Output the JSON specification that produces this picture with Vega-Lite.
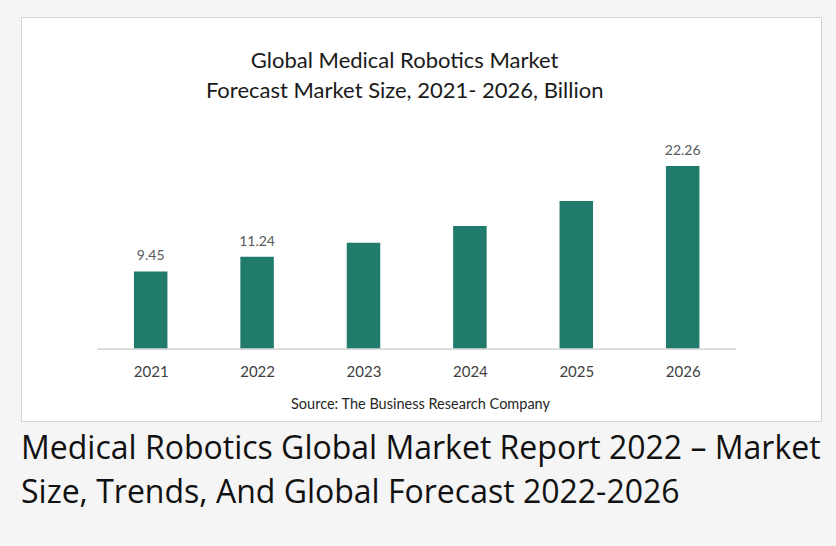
{
  "$schema": "https://vega.github.io/schema/vega-lite/v6.json",
  "width": 800,
  "height": 404,
  "autosize": "none",
  "padding": {"left": 21, "top": 17, "right": 15, "bottom": 125},
  "background": "#f5f5f5",
  "config": {"view": {"fill": "#ffffff", "stroke": "#d4d4d4", "strokeWidth": 1}},
  "title": {
    "text": ["Medical Robotics Global Market Report 2022 – Market", "Size, Trends, And Global Forecast 2022-2026"],
    "orient": "bottom",
    "anchor": "start",
    "offset": 13,
    "font": "Open Sans",
    "fontSize": 32,
    "fontWeight": "normal",
    "color": "#111111",
    "lineHeight": 44,
    "baseline": "top"
  },
  "data": {
    "values": [
      {"year": 2021, "value": 9.45, "label": "9.45"},
      {"year": 2022, "value": 11.24, "label": "11.24"},
      {"year": 2023, "value": 12.95, "label": ""},
      {"year": 2024, "value": 14.98, "label": ""},
      {"year": 2025, "value": 18.0, "label": ""},
      {"year": 2026, "value": 22.26, "label": "22.26"}
    ]
  },
  "layer": [
    {
      "mark": {"type": "bar", "width": 33.5, "color": "#217b6c"},
      "encoding": {
        "x": {
          "field": "year",
          "type": "quantitative",
          "scale": {"domain": [2019.781, 2027.3], "nice": false, "zero": false, "padding": 0},
          "axis": {
            "values": [2021, 2022, 2023, 2024, 2025, 2026],
            "format": "d",
            "domain": false,
            "ticks": false,
            "grid": false,
            "offset": -71.7,
            "labelPadding": 15,
            "labelFont": "Lato",
            "labelFontSize": 15,
            "labelColor": "#404040",
            "labelFlush": false,
            "title": null
          }
        },
        "y": {
          "field": "value",
          "type": "quantitative",
          "scale": {"domain": [-8.71, 40.36], "nice": false, "zero": false, "padding": 0},
          "axis": null
        },
        "y2": {"datum": 0}
      }
    },
    {
      "mark": {"type": "rule", "color": "#d9d9d9", "strokeWidth": 1},
      "encoding": {
        "x": {"datum": 2020.5, "type": "quantitative"},
        "x2": {"datum": 2026.5},
        "y": {"datum": 0, "type": "quantitative"}
      }
    },
    {
      "mark": {"type": "text", "dy": -11, "baseline": "alphabetic", "font": "Lato", "fontSize": 14, "color": "#595959"},
      "encoding": {
        "x": {"field": "year", "type": "quantitative"},
        "y": {"field": "value", "type": "quantitative"},
        "text": {"field": "label"}
      }
    },
    {
      "data": {"values": [{"title": "Global Medical Robotics Market"}]},
      "mark": {
        "type": "text",
        "text": ["Global Medical Robotics Market", "Forecast Market Size, 2021- 2026, Billion"],
        "lineHeight": 30,
        "baseline": "alphabetic",
        "align": "center",
        "font": "Lato",
        "fontSize": 22,
        "color": "#1a1a1a"
      },
      "encoding": {
        "x": {"datum": 2023.387, "type": "quantitative"},
        "y": {"datum": 34.13, "type": "quantitative"}
      }
    },
    {
      "data": {"values": [{"source": "Source: The Business Research Company"}]},
      "mark": {"type": "text", "baseline": "alphabetic", "align": "center", "font": "Lato", "fontSize": 14.5, "color": "#262626"},
      "encoding": {
        "x": {"datum": 2023.536, "type": "quantitative"},
        "y": {"datum": -7.25, "type": "quantitative"},
        "text": {"field": "source"}
      }
    }
  ]
}
